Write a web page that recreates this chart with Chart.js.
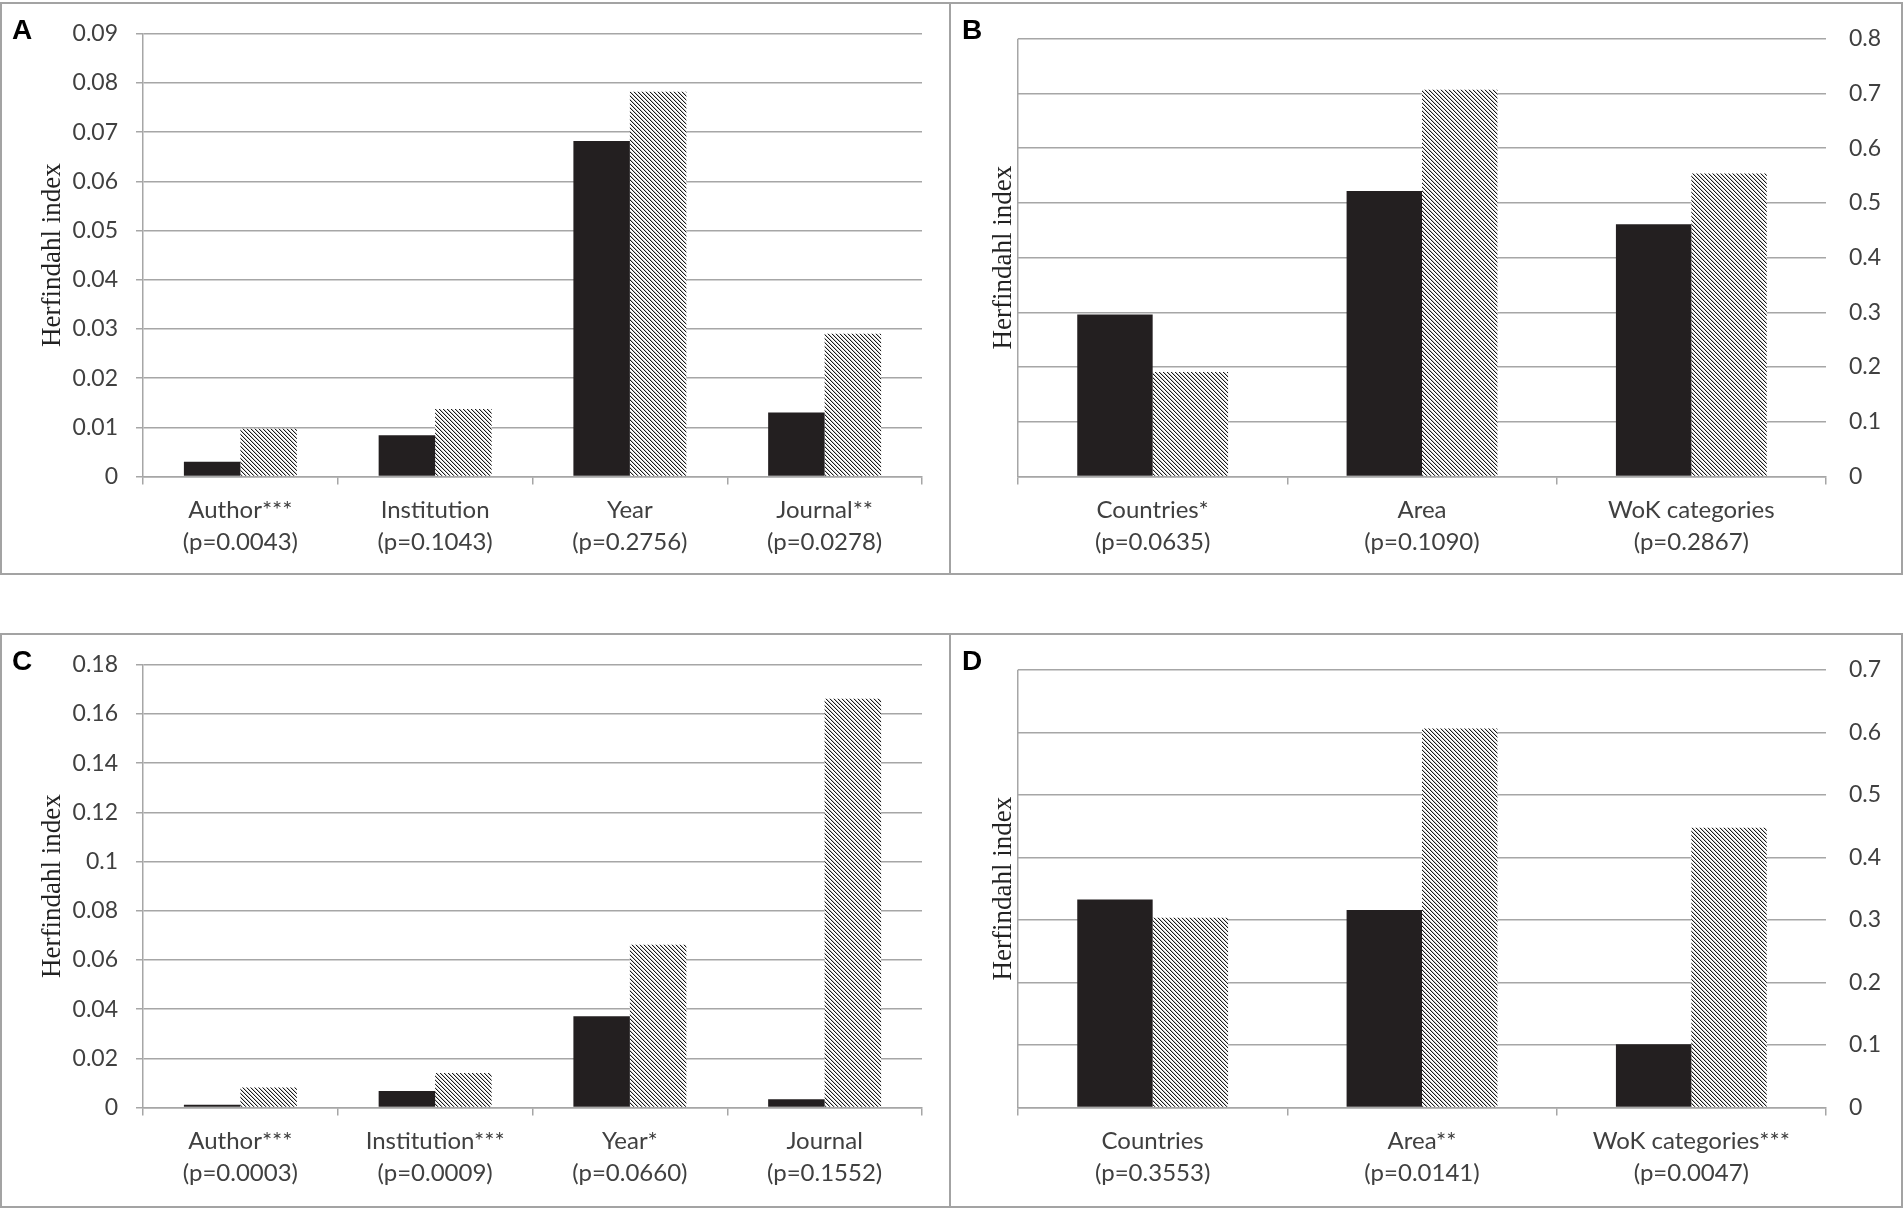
<!DOCTYPE html>
<html>
<head>
<meta charset="utf-8">
<title>Herfindahl index</title>
<script src="https://cdn.jsdelivr.net/npm/chart.js@4.4.1/dist/chart.umd.min.js"></script>
<style>
  html, body { margin: 0; padding: 0; background: #fff; }
  #page { position: relative; width: 1904px; height: 1208px; overflow: hidden; }
  .panel { position: absolute; outline: 2px solid #a3a3a3; outline-offset: -2px; }
  .panel canvas { display: block; }
</style>
</head>
<body>
<div id="page">
  <div class="panel" style="left:0;top:2px;width:951px;height:573px"><canvas id="chartA"></canvas></div>
  <div class="panel" style="left:949px;top:2px;width:954px;height:573px"><canvas id="chartB"></canvas></div>
  <div class="panel" style="left:0;top:633px;width:951px;height:575px"><canvas id="chartC"></canvas></div>
  <div class="panel" style="left:949px;top:633px;width:954px;height:575px"><canvas id="chartD"></canvas></div>
</div>
<script>
// Panel A
const labelsA = [['Author***', '(p=0.0043)'], ['Institution', '(p=0.1043)'], ['Year', '(p=0.2756)'], ['Journal**', '(p=0.0278)']];
const blackA = [0.0030, 0.0084, 0.0682, 0.0130];
const hatchA = [0.0097, 0.0137, 0.0782, 0.0290];
const ticksA = [0, 0.01, 0.02, 0.03, 0.04, 0.05, 0.06, 0.07, 0.08, 0.09];

// Panel B
const labelsB = [['Countries*', '(p=0.0635)'], ['Area', '(p=0.1090)'], ['WoK categories', '(p=0.2867)']];
const blackB = [0.296, 0.522, 0.461];
const hatchB = [0.191, 0.707, 0.554];
const ticksB = [0, 0.1, 0.2, 0.3, 0.4, 0.5, 0.6, 0.7, 0.8];

// Panel C
const labelsC = [['Author***', '(p=0.0003)'], ['Institution***', '(p=0.0009)'], ['Year*', '(p=0.0660)'], ['Journal', '(p=0.1552)']];
const blackC = [0.0011, 0.0067, 0.0371, 0.0034];
const hatchC = [0.0081, 0.0140, 0.0662, 0.1662];
const ticksC = [0, 0.02, 0.04, 0.06, 0.08, 0.1, 0.12, 0.14, 0.16, 0.18];

// Panel D
const labelsD = [['Countries', '(p=0.3553)'], ['Area**', '(p=0.0141)'], ['WoK categories***', '(p=0.0047)']];
const blackD = [0.3325, 0.316, 0.101];
const hatchD = [0.3035, 0.606, 0.4474];
const ticksD = [0, 0.1, 0.2, 0.3, 0.4, 0.5, 0.6, 0.7];

const GRID = '#a6a6a6';
const TICK_FONT = { family: 'Lato, "Liberation Sans Narrow", sans-serif', size: 23 };

// panel letter + rotated serif axis title
const decor = {
  id: 'decor',
  afterDraw(chart, args, o) {
    const ctx = chart.ctx;
    const a = chart.chartArea;
    ctx.save();
    ctx.fillStyle = '#000';
    ctx.font = 'bold 28px "Liberation Sans", Arial, sans-serif';
    ctx.textBaseline = 'alphabetic';
    ctx.fillText(o.letter, o.letterX, 37);
    ctx.translate(o.titleX, (a.top + a.bottom) / 2);
    ctx.rotate(-Math.PI / 2);
    ctx.textAlign = 'center';
    ctx.font = '27px "Liberation Serif", "Times New Roman", serif';
    ctx.fillStyle = '#222';
    ctx.fillText('Herfindahl index', 0, 0);
    ctx.restore();
  }
};

function hatch(canvas) {
  const tile = document.createElement('canvas');
  tile.width = 4; tile.height = 4;
  const g = tile.getContext('2d');
  g.fillStyle = '#fff';
  g.fillRect(0, 0, 4, 4);
  for (let i = 0; i < 4; i++) {
    g.fillStyle = '#1a1a1a';
    g.fillRect(i, i, 1, 1);
    g.fillStyle = '#c4c4c4';
    g.fillRect((i + 1) % 4, i, 1, 1);
  }
  return canvas.getContext('2d').createPattern(tile, 'repeat');
}

function makeChart(id, letter, labels, black, hatched, ticks, side) {
  const canvas = document.getElementById(id);
  const right = side === 'right';
  return new Chart(canvas, {
    type: 'bar',
    data: {
      labels: labels,
      datasets: [
        { data: black, backgroundColor: '#231f20', borderWidth: 0 },
        { data: hatched, backgroundColor: hatch(canvas), borderWidth: 0 }
      ]
    },
    options: {
      responsive: true,
      maintainAspectRatio: false,
      animation: false,
      devicePixelRatio: 1,
      layout: { padding: right ? { left: 69, top: 31, right: 0, bottom: 0 } : { left: 0, top: 31, right: 29, bottom: 0 } },
      datasets: { bar: { categoryPercentage: right ? 0.56 : 0.58, barPercentage: 1 } },
      plugins: {
        legend: { display: false },
        tooltip: { enabled: false },
        decor: { letter: letter, letterX: right ? 13 : 12, titleX: right ? 62 : 60 }
      },
      scales: {
        x: {
          afterFit: s => { s.height = s.chart.height - 474.5; },
          border: { color: GRID, width: 1.5 },
          grid: {
            offset: true,
            drawOnChartArea: right,
            color: c => (right && c.index === 0) ? GRID : 'rgba(0,0,0,0)',
            tickColor: GRID,
            tickLength: 8,
            lineWidth: 1.5
          },
          ticks: { color: '#404040', font: { ...TICK_FONT, size: 24, lineHeight: 1.32 }, padding: 10, maxRotation: 0, autoSkip: false }
        },
        y: {
          position: side,
          min: 0,
          max: ticks[ticks.length - 1],
          afterFit: s => { s.width = right ? 77 : 143; },
          afterBuildTicks: s => { s.ticks = ticks.map(v => ({ value: v })); },
          border: { display: !right, color: GRID, width: 1.5 },
          grid: { color: GRID, lineWidth: 1.5, drawTicks: !right, tickLength: 7 },
          ticks: {
            color: '#404040',
            font: TICK_FONT,
            padding: right ? 23 : 18,
            callback: v => String(Math.round(v * 1000) / 1000)
          }
        }
      }
    },
    plugins: [decor]
  });
}

makeChart('chartA', 'A', labelsA, blackA, hatchA, ticksA, 'left');
makeChart('chartB', 'B', labelsB, blackB, hatchB, ticksB, 'right');
makeChart('chartC', 'C', labelsC, blackC, hatchC, ticksC, 'left');
makeChart('chartD', 'D', labelsD, blackD, hatchD, ticksD, 'right');
</script>
</body>
</html>
